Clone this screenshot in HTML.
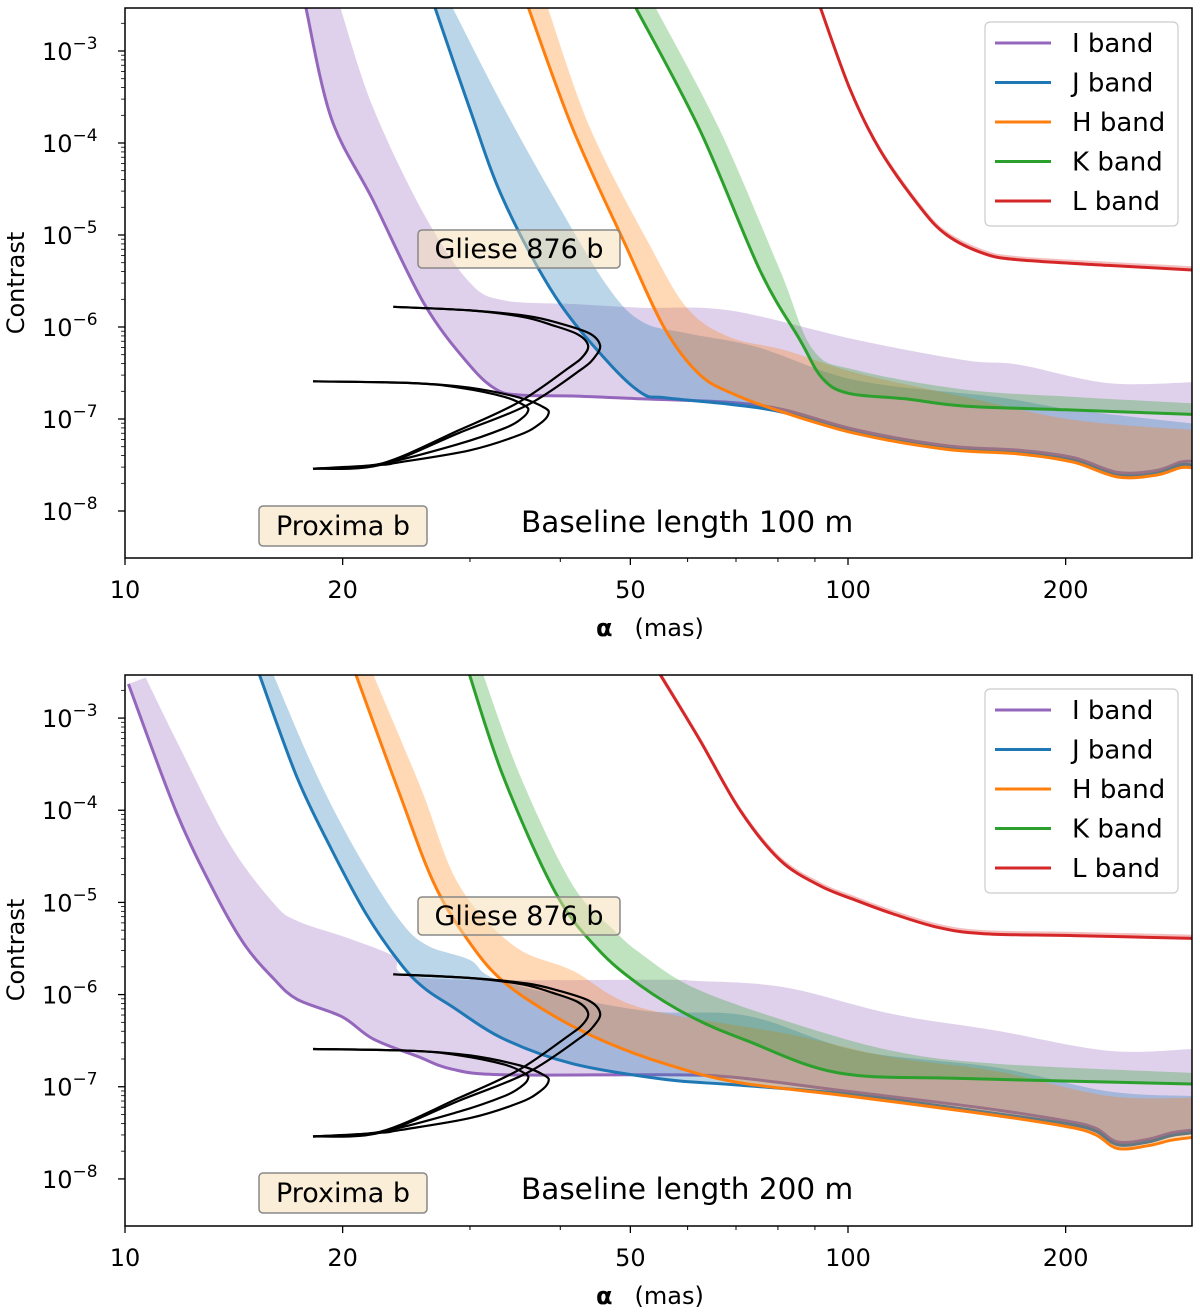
<!DOCTYPE html>
<html><head><meta charset="utf-8"><style>
html,body{margin:0;padding:0;background:#fff;}
svg{display:block;font-family:"DejaVu Sans","Liberation Sans",sans-serif;}
</style></head><body>
<svg id="chart" width="1200" height="1312" viewBox="0 0 1200 1312" xmlns="http://www.w3.org/2000/svg"></svg>
<script>
// ---------- data (alpha in mas, contrast as log10) ----------
// Top panel: baseline 100 m
const topI_a=[17.78,19.29,22.02,25.94,29.93,32.65,35.26,41.59,51.6,68.6,81.6,102.8,137,172.5,205,236,267,288,300];
const topI_c=[-2.52,-3.73,-4.62,-5.75,-6.41,-6.68,-6.74,-6.75,-6.78,-6.82,-6.9,-7.12,-7.29,-7.34,-7.42,-7.58,-7.56,-7.47,-7.46];
const topIu_a=[19.84,22.02,25.94,29.93,33.38,41.59,51.6,68.6,102.8,144.8,172.5,229,300];
const topIu_c=[-2.52,-3.61,-4.78,-5.51,-5.71,-5.75,-5.79,-5.82,-6.14,-6.36,-6.41,-6.61,-6.6];
const topJ_a=[26.81,29.93,33.38,39.37,46.42,51.86,55.8,68.6,81.6,102.8,137,172.5,205,236,267,288,300];
const topJ_c=[-2.52,-3.61,-4.62,-5.67,-6.37,-6.72,-6.77,-6.84,-6.93,-7.15,-7.32,-7.37,-7.45,-7.61,-7.59,-7.5,-7.5];
const topJu_a=[28.34,33.38,39.37,46.42,51.86,60,75,102.8,160,205,300];
const topJu_c=[-2.52,-3.61,-4.62,-5.55,-5.94,-6.07,-6.22,-6.58,-6.76,-6.9,-7.05];
const topH_a=[36.1,41.6,49.1,55.8,62.4,70,81.6,102.8,137,172.5,205,236,267,288,300];
const topH_c=[-2.52,-3.84,-5.09,-6.02,-6.52,-6.74,-6.93,-7.16,-7.33,-7.38,-7.47,-7.63,-7.61,-7.53,-7.53];
const topHu_a=[38.4,44,53,60,68.6,81.6,102.8,145,205,300];
const topHu_c=[-2.52,-3.84,-5.09,-5.8,-6.11,-6.25,-6.5,-6.76,-7.01,-7.12];
const topK_a=[50.8,62.4,75.5,85.8,92,100,120,145,200,300];
const topK_c=[-2.52,-3.86,-5.38,-6.14,-6.55,-6.72,-6.78,-6.86,-6.9,-6.95];
const topKu_a=[54.1,66.5,80.5,89.5,102.8,145,205,300];
const topKu_c=[-2.52,-3.86,-5.38,-6.25,-6.47,-6.68,-6.76,-6.83];
const topL_a=[91.5,100.7,110.8,125.9,137,154,172,229,300];
const topL_c=[-2.52,-3.42,-4.08,-4.7,-5.0,-5.2,-5.27,-5.33,-5.38];
// Bottom panel: baseline 200 m
const botI_a=[10.11,11.79,13.44,14.67,16.02,17.29,19.95,22.02,25.38,28.34,33.38,55.8,70,100,150,200,220,236,260,280,300];
const botI_c=[-2.63,-4.03,-4.96,-5.47,-5.82,-6.05,-6.24,-6.48,-6.67,-6.81,-6.87,-6.87,-6.9,-7.05,-7.22,-7.37,-7.45,-7.6,-7.57,-7.5,-7.47];
const botIu_a=[10.68,11.79,13.89,16.02,17.29,20.39,23.51,25.94,55.8,61,81.6,115,160,229,300];
const botIu_c=[-2.56,-3.25,-4.34,-5.0,-5.2,-5.39,-5.58,-5.82,-5.84,-5.85,-5.92,-6.21,-6.39,-6.61,-6.59];
const botJ_a=[15.33,17.29,19.29,21.54,24.02,25.94,28.34,33.38,41.59,55.8,70,100,150,200,220,236,260,280,300];
const botJ_c=[-2.52,-3.64,-4.42,-5.12,-5.66,-5.93,-6.13,-6.48,-6.75,-6.92,-6.98,-7.08,-7.26,-7.4,-7.48,-7.63,-7.6,-7.53,-7.5];
const botJu_a=[16.02,18.47,21.07,24.02,26.23,29.93,33.38,51.6,72.5,103,160,229,300];
const botJu_c=[-2.52,-3.64,-4.5,-5.2,-5.47,-5.62,-5.86,-6.17,-6.23,-6.61,-6.79,-7.05,-7.1];
const botH_a=[20.84,24.02,26.81,29.93,33.38,39.37,46.42,55.8,70,100,150,200,220,236,260,280,300];
const botH_c=[-2.52,-3.84,-4.81,-5.43,-5.86,-6.24,-6.52,-6.75,-6.95,-7.1,-7.28,-7.43,-7.52,-7.67,-7.64,-7.58,-7.55];
const botHu_a=[22.02,25.66,28.96,34.5,41.59,51.6,81.6,115,160,229,300];
const botHu_c=[-2.52,-3.76,-4.81,-5.47,-5.74,-6.14,-6.42,-6.68,-6.83,-7.1,-7.12];
const botK_a=[29.93,33.38,39.37,45,51.6,61,72.5,97,145,300];
const botK_c=[-2.52,-3.64,-4.89,-5.5,-5.9,-6.25,-6.5,-6.85,-6.91,-6.97];
const botKu_a=[31.26,35.26,41.59,47.45,51.6,61,81.6,115,160,300];
const botKu_c=[-2.52,-3.64,-4.81,-5.3,-5.55,-5.92,-6.28,-6.61,-6.75,-6.85];
const botL_a=[55,62.4,70.9,80.5,91.5,102.8,115,133,154,205,300];
const botL_c=[-2.53,-3.24,-4.0,-4.54,-4.82,-4.98,-5.12,-5.27,-5.34,-5.36,-5.39];
// Planet orbit tracks (same in both panels)
const orbA1_a=[23.5,30,35.5,39,42.3,43.7,43,41,35,29,22.5,18.2];
const orbA1_c=[-5.78,-5.82,-5.89,-5.98,-6.08,-6.2,-6.32,-6.45,-6.82,-7.12,-7.49,-7.54];
const orbA2_a=[23.5,30,36,39.9,43.9,45.4,44.6,42.6,36,29,22.5,18.2];
const orbA2_c=[-5.78,-5.82,-5.88,-5.96,-6.07,-6.2,-6.33,-6.47,-6.85,-7.15,-7.5,-7.54];
const orbB1_a=[18.2,25,29,33.5,35.8,36.07,35.3,33.5,29,22.5,18.2];
const orbB1_c=[-6.59,-6.61,-6.66,-6.76,-6.86,-6.92,-7.0,-7.1,-7.27,-7.49,-7.54];
const orbB2_a=[18.2,25,30,35.2,38.1,38.5,37.5,35.2,30,24,22.5,18.2];
const orbB2_c=[-6.59,-6.61,-6.66,-6.77,-6.88,-6.95,-7.05,-7.17,-7.34,-7.47,-7.5,-7.54];
const xTicks=[10,20,50,100,200];
const yTicks=[-3,-4,-5,-6,-7,-8];
const bandNames=["I band","J band","H band","K band","L band"];
const bandColors=["#9467bd","#1f77b4","#ff7f0e","#2ca02c","#d62728"];
const baselineLabels=["Baseline length 100 m","Baseline length 200 m"];

// ---------- drawing ----------
const NS="http://www.w3.org/2000/svg";
const svg=document.getElementById('chart');
const X0=125,X1=1192,DEC=723;
const YMAX=-3+43/92, YMIN=-8-47/92;
function mk(tag,attrs,parent){const e=document.createElementNS(NS,tag);for(const k in attrs)e.setAttribute(k,attrs[k]);(parent||svg).appendChild(e);return e;}
function smooth(pts){
  if(pts.length<2)return '';
  let d='M'+pts[0][0].toFixed(1)+','+pts[0][1].toFixed(1);
  for(let i=0;i<pts.length-1;i++){
    const p0=pts[i-1]||pts[i],p1=pts[i],p2=pts[i+1],p3=pts[i+2]||pts[i+1];
    const c1=[p1[0]+(p2[0]-p0[0])/6,p1[1]+(p2[1]-p0[1])/6];
    const c2=[p2[0]-(p3[0]-p1[0])/6,p2[1]-(p3[1]-p1[1])/6];
    d+='C'+c1[0].toFixed(1)+','+c1[1].toFixed(1)+' '+c2[0].toFixed(1)+','+c2[1].toFixed(1)+' '+p2[0].toFixed(1)+','+p2[1].toFixed(1);
  }
  return d;
}
function panel(idx,top,bottom,bands,label){
  const xs=a=>X0+DEC*Math.log10(a/10);
  const ys=c=>top+(YMAX-c)/(YMAX-YMIN)*(bottom-top);
  const g=mk('g',{});
  
  
  const cid='clip'+idx;
  const cp=mk('clipPath',{id:cid},g);
  mk('rect',{x:X0,y:top,width:X1-X0,height:bottom-top},cp);
  const plot=mk('g',{'clip-path':'url(#'+cid+')'},g);
  bands.forEach((b,i)=>{
    const lp=b[0].map((a,k)=>[xs(a),ys(b[1][k])]);
    const up=b[2].map((a,k)=>[xs(a),ys(b[3][k])]);
    const upr=up.slice().reverse();
    const fd=smooth(lp)+' L'+upr[0][0]+','+upr[0][1]+smooth(upr).replace(/^M[^C]*/,'')+'Z';
    const f=mk('path',{d:fd,fill:bandColors[i],'fill-opacity':0.3,stroke:'none'},plot);
    
    
    const l=mk('path',{d:smooth(lp),fill:'none',stroke:bandColors[i],'stroke-width':3,'stroke-linejoin':'round'},plot);
    
    
  });
  [[orbA1_a,orbA1_c],[orbA2_a,orbA2_c],[orbB1_a,orbB1_c],[orbB2_a,orbB2_c]].forEach((o,i)=>{
    const p=mk('path',{d:smooth(o[0].map((a,k)=>[xs(a),ys(o[1][k])])),fill:'none',stroke:'#000','stroke-width':2.2},plot);
    
    
  });
  function box(x,y,w,h,txt,name){
    const bg=mk('g',{},g);
    
    
    mk('rect',{x:x,y:y,width:w,height:h,rx:4,fill:'#f5deb3','fill-opacity':0.5,stroke:'#888','stroke-width':1.5},bg);
    const t=mk('text',{x:x+w/2,y:y+h/2+9,'text-anchor':'middle','font-size':27,fill:'#000'},bg);t.textContent=txt;
  }
  box(418,top+222,202,38,'Gliese 876 b','gliese-876b-label');
  box(259,top+498,168,40,'Proxima b','proxima-b-label');
  const bl=mk('text',{x:521,y:top+524,'font-size':29.5,fill:'#000'},g);
  bl.textContent=label;
  
  
  const fr=mk('rect',{x:X0,y:top,width:X1-X0,height:bottom-top,fill:'none',stroke:'#000','stroke-width':1.5},g);
  
  
  const minorX=[30,40,60,70,80,90,300];
  minorX.forEach(v=>{const x=xs(v);if(x<=X1)mk('line',{x1:x,x2:x,y1:bottom,y2:bottom+4,stroke:'#000','stroke-width':1},g);});
  xTicks.forEach(v=>{
    const x=xs(v);
    mk('line',{x1:x,x2:x,y1:bottom,y2:bottom+7,stroke:'#000','stroke-width':1.3},g);
    const t=mk('text',{x:x,y:bottom+40,'text-anchor':'middle','font-size':24,fill:'#000'},g);
    t.textContent=String(v);
    
    
  });
  yTicks.forEach(v=>{
    const y=ys(v);
    mk('line',{x1:X0-7,x2:X0,y1:y,y2:y,stroke:'#000','stroke-width':1.3},g);
    for(let m=2;m<10;m++){const ym=ys(v+Math.log10(m));if(ym>=top&&ym<=bottom)mk('line',{x1:X0-4,x2:X0,y1:ym,y2:ym,stroke:'#000','stroke-width':0.8},g);}
    const t=mk('text',{x:42,y:y+9,'font-size':24,fill:'#000'},g);
    
    
    const t1=mk('tspan',{},t);t1.textContent='10';
    const t2=mk('tspan',{dy:-11,'font-size':17},t);t2.textContent='\u2212'+(-v);
  });
  const xl=mk('text',{x:596,y:bottom+78,'font-size':24,fill:'#000'},g);
  
  
  const a1=mk('tspan',{'font-weight':'bold'},xl);a1.textContent='\u03b1';
  const a2=mk('tspan',{dx:22},xl);a2.textContent='(mas)';
  const yl=mk('text',{x:0,y:0,'font-size':24,fill:'#000','text-anchor':'middle',transform:'translate(24,'+(top+275)+') rotate(-90)'},g);
  yl.textContent='Contrast';
  
  
  const lg=mk('g',{},g);
  
  
  mk('rect',{x:985,y:top+14,width:193,height:204,rx:5,fill:'#fff','fill-opacity':0.8,stroke:'#ccc','stroke-width':1.2},lg);
  bandNames.forEach((n,i)=>{
    const y=top+35+i*39.5;
    const e=mk('g',{},lg);
    
    
    mk('line',{x1:995,x2:1051,y1:y,y2:y,stroke:bandColors[i],'stroke-width':3},e);
    const t=mk('text',{x:1072,y:y+9,'font-size':26,fill:'#000'},e);t.textContent=n;
  });
}
panel(0,8,558,[[topI_a,topI_c,topIu_a,topIu_c],[topJ_a,topJ_c,topJu_a,topJu_c],[topH_a,topH_c,topHu_a,topHu_c],[topK_a,topK_c,topKu_a,topKu_c],[topL_a,topL_c,topL_a,topL_c.map(v=>v+0.04)]],baselineLabels[0]);
panel(1,675,1226,[[botI_a,botI_c,botIu_a,botIu_c],[botJ_a,botJ_c,botJu_a,botJu_c],[botH_a,botH_c,botHu_a,botHu_c],[botK_a,botK_c,botKu_a,botKu_c],[botL_a,botL_c,botL_a,botL_c.map(v=>v+0.04)]],baselineLabels[1]);
</script>
</body></html>
